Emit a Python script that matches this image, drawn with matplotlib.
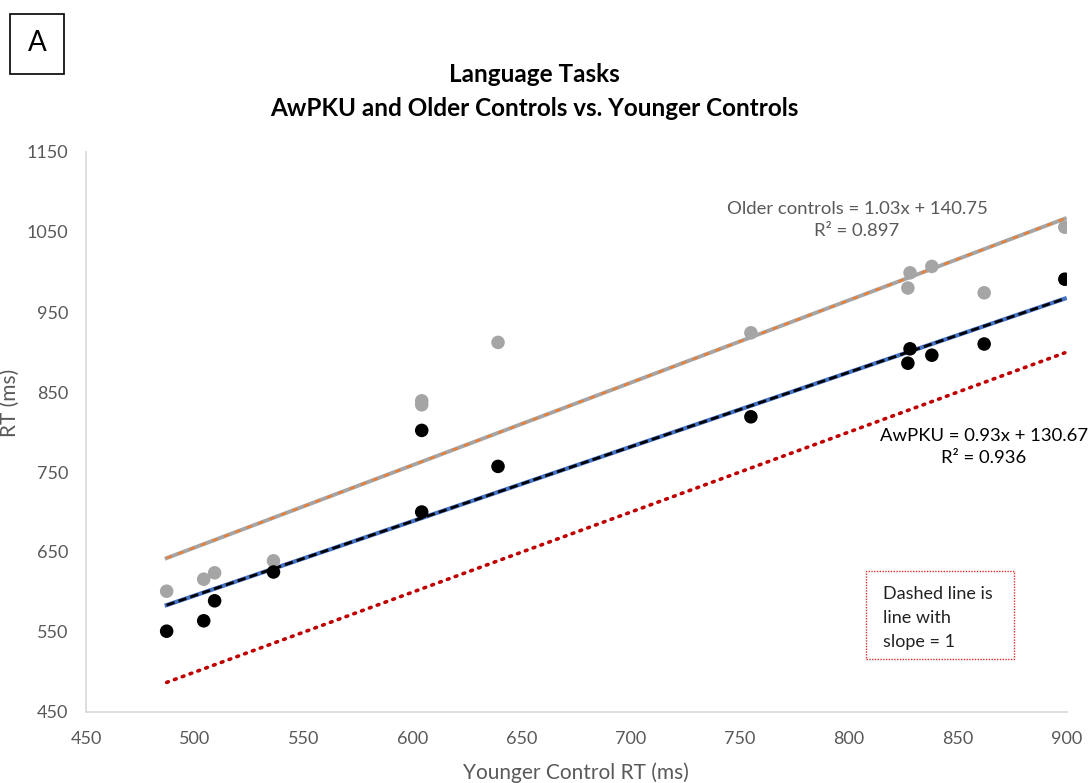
import matplotlib.pyplot as plt
from matplotlib.patches import Rectangle

plt.rcParams['font.family'] = ['Lato', 'DejaVu Sans']

# Mean RT per task (ms): younger controls on x, other groups on y
younger_rt = [487, 504, 509, 536, 604, 604, 639, 755, 827, 828, 838, 862, 899]
awpku_rt = [551, 564, 589, 625, 802, 700, 757, 819, 886, 904, 896, 910, 991]
older_x = [487, 504, 509, 536, 604, 604, 639, 755, 827, 828, 838, 862, 899]
older_rt = [601, 616, 624, 639, 839, 834, 912, 924, 980, 999, 1007, 974, 1056]

# fitted trendlines (slope, intercept, R^2)
older_fit = (1.03, 140.75, 0.897)
awpku_fit = (0.93, 130.67, 0.936)

x_ticks = list(range(450, 901, 50))
y_ticks = list(range(450, 1151, 100))

W, H = 1090, 783
fig = plt.figure(figsize=(W / 100, H / 100), dpi=100)
ax = fig.add_axes([86 / W, 1 - 712 / H, 981 / W, 560 / H])

x0, x1 = min(younger_rt), max(younger_rt)
xs = [x0, x1]

# slope = 1 reference line
ax.plot(xs, xs, color='#c00000', lw=2.6, ls=(0, (0.5, 1.8)),
        dash_capstyle='round', zorder=2)

# older controls trendline: grey line with orange dashes on top
oy = [older_fit[0] * v + older_fit[1] for v in xs]
ax.plot(xs, oy, color='#a5a5a5', lw=2.8, zorder=2)
ax.plot(xs, oy, color='#ed7d31', lw=1.6, ls=(0, (2.5, 3)), zorder=3)

# AwPKU trendline: blue line with black dashes
ay = [awpku_fit[0] * v + awpku_fit[1] for v in xs]
ax.plot(xs, ay, color='#4472c4', lw=3.0, zorder=2)
ax.plot(xs, ay, color='black', lw=2.0, ls=(0, (3, 1.5)), zorder=3)

ax.scatter(older_x, older_rt, s=95, color='#a5a5a5', edgecolors='none', zorder=4)
ax.scatter(younger_rt, awpku_rt, s=95, color='black', edgecolors='none', zorder=5)

ax.set_xlim(450, 900)
ax.set_ylim(450, 1150)
ax.set_xticks(x_ticks)
ax.set_yticks(y_ticks)
ax.tick_params(length=0, labelsize=13, labelcolor='#595959')
ax.tick_params(axis='x', pad=14)
ax.tick_params(axis='y', pad=13)
for side in ['top', 'right']:
    ax.spines[side].set_visible(False)
for side in ['left', 'bottom']:
    ax.spines[side].set_color('#d9d9d9')
    ax.spines[side].set_linewidth(1.2)

fig.text(576 / W, 1 - 773 / H, 'Younger Control RT (ms)', fontsize=15,
         color='#595959', ha='center', va='center')
fig.text(10 / W, 1 - 403 / H, 'RT (ms)', rotation=90, fontsize=15,
         color='#595959', ha='center', va='center')

fig.text(534 / W, 1 - 75 / H, 'Language Tasks', ha='center', va='center',
         fontsize=17.5, fontweight='bold')
fig.text(534 / W, 1 - 108 / H, 'AwPKU and Older Controls vs. Younger Controls',
         ha='center', va='center', fontsize=17.5, fontweight='bold')

ax.text(0.786, 0.879,
        f'Older controls = {older_fit[0]:.2f}x + {older_fit[1]:.2f}\n'
        f'R² = {older_fit[2]:.3f}',
        transform=ax.transAxes, ha='center', va='center', fontsize=13.3,
        color='#595959', linespacing=1.5)
ax.text(0.915, 0.473,
        f'AwPKU = {awpku_fit[0]:.2f}x + {awpku_fit[1]:.2f}\n'
        f'R² = {awpku_fit[2]:.3f}',
        transform=ax.transAxes, ha='center', va='center', fontsize=13.3,
        color='black', linespacing=1.5)

# note box
ax.text((883 - 86) / 981, (712 - 618) / 560, 'Dashed line is\nline with\nslope = 1',
        transform=ax.transAxes, ha='left', va='center', fontsize=13,
        color='#222222', linespacing=1.65)
ax.add_patch(Rectangle(((866 - 86) / 981, (712 - 659) / 560), 148 / 981, 88 / 560,
                       transform=ax.transAxes, fill=False, edgecolor='#e03030',
                       lw=1.0, ls=(0, (1, 1)), clip_on=False))

# panel letter
fig.add_artist(Rectangle((10 / W, 1 - 74 / H), 54 / W, 60 / H,
                         transform=fig.transFigure, fill=False,
                         edgecolor='black', lw=1.2))
fig.text(37 / W, 1 - 43 / H, 'A', ha='center', va='center', fontsize=20)

fig.savefig('out.png', dpi=100)
